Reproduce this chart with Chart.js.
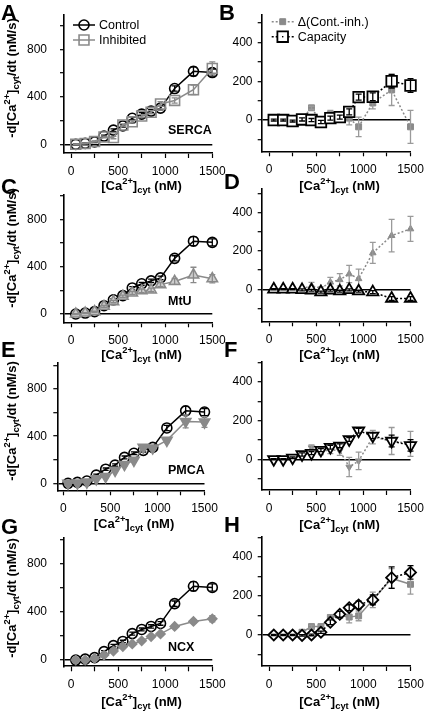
<!DOCTYPE html>
<html>
<head>
<meta charset="utf-8">
<script src="https://cdn.jsdelivr.net/npm/chart.js@4.4.0/dist/chart.umd.min.js"></script>
<style>
html, body { margin:0; padding:0; width:424px; height:711px; overflow:hidden; background:#fff; }
body { position:relative; font-family:"Liberation Sans", Arial, sans-serif; color:#000; }
canvas { position:absolute; }
.lbl { position:absolute; font-weight:bold; white-space:nowrap; line-height:1; }
.letter { font-size:22px; }
.xt { font-size:13px; transform:translate(-50%,-50%); }
.yt { font-size:13px; transform:translate(-50%,-50%) rotate(-90deg); }
.sup { font-size:0.72em; position:relative; top:-0.6em; }
.sub { font-size:0.72em; position:relative; top:0.3em; }
.name { font-size:12.5px; transform:translateY(-50%); }
</style>
</head>
<body>
<script>
// [Ca2+]cyt bins (nM)
const caConc = [50, 150, 250, 350, 450, 550, 650, 750, 850, 950, 1100, 1300, 1500];

// control efflux rate (nM/s), same in all left panels
const control    = [0, 8, 20, 70, 120, 155, 220, 255, 280, 305, 470, 615, 605];
const controlErr = [4, 4, 5, 8, 10, 10, 12, 12, 14, 15, 22, 38, 30];

// SERCA
const sercaInh      = [0, 8, 23, 62, 57, 163, 190, 238, 270, 340, 370, 460, 640];
const sercaInhErr   = [4, 4, 5, 8, 10, 10, 12, 12, 14, 20, 22, 40, 55];
const sercaDelta    = [0, 0, -3, 5, 63, -8, 30, 17, 10, -35, 88, 155, -35];
const sercaDeltaErr = [3, 3, 5, 8, 8, 10, 20, 20, 35, 50, 30, 80, 85];
const sercaCap      = [0, 0, -5, 3, 0, -10, 10, 15, 42, 118, 120, 200, 178];
const sercaCapErr   = [5, 5, 5, 8, 8, 8, 10, 10, 15, 15, 20, 35, 35];

// MtU
const mtuInh      = [0, 8, 20, 65, 105, 150, 178, 196, 203, 248, 275, 330, 298];
const mtuInhErr   = [4, 4, 5, 8, 10, 10, 12, 15, 15, 18, 25, 65, 35];
const mtuDelta    = [0, 0, 0, 3, 18, 5, 37, 50, 80, 55, 190, 280, 315];
const mtuDeltaErr = [3, 3, 3, 5, 18, 8, 25, 32, 45, 50, 55, 85, 65];
const mtuCap      = [0, 0, 0, -3, -5, -15, -5, -10, -3, -10, -15, -48, -48];
const mtuCapErr   = [3, 3, 3, 5, 5, 5, 5, 5, 5, 5, 8, 10, 10];

// PMCA
const pmcaInh      = [0, 2, 10, 38, 58, 110, 160, 195, 305, 300, 365, 525, 520];
const pmcaInhErr   = [4, 4, 5, 8, 10, 10, 12, 12, 20, 20, 20, 55, 45];
const pmcaDelta    = [0, 0, 0, 25, 60, 40, 50, 45, -40, -8, 115, 95, 80];
const pmcaDeltaErr = [3, 3, 5, 15, 15, 15, 20, 25, 50, 45, 35, 70, 65];
const pmcaCap      = [0, 0, 8, 25, 32, 48, 63, 70, 103, 148, 122, 95, 72];
const pmcaCapErr   = [3, 3, 4, 8, 8, 8, 10, 10, 10, 12, 15, 30, 30];

// NCX
const ncxInh      = [0, 0, 14, 42, 75, 112, 134, 160, 196, 218, 280, 322, 344];
const ncxInhErr   = [3, 3, 4, 5, 5, 6, 6, 6, 8, 8, 10, 12, 25];
const ncxDelta    = [0, 0, 0, 14, 43, 43, 90, 100, 92, 98, 180, 290, 260];
const ncxDeltaErr = [3, 3, 3, 6, 8, 8, 12, 12, 30, 25, 40, 50, 50];
const ncxCap      = [0, 0, 0, -2, 0, 14, 65, 106, 140, 154, 180, 294, 321];
const ncxCapErr   = [3, 3, 3, 4, 4, 6, 12, 15, 15, 20, 25, 55, 35];

// axis ticks
const xTicks = [0, 250, 500, 750, 1000, 1250, 1500];
const xTickLabels = [0, 500, 1000, 1500];
const yTicksRate = [0, 200, 400, 600, 800, 1000];
const yLabelsRate = [0, 400, 800];
const yTicksDiff = [-100, 0, 100, 200, 300, 400, 500];
const yLabelsDiff = [0, 200, 400];

const GRAY = '#8a8a8a';
const FONT = '"Liberation Sans", Arial, sans-serif';
Chart.defaults.font.family = FONT;
Chart.defaults.color = '#000';

function series(label, values, errs, style) {
  return Object.assign({
    label: label,
    data: caConc.map((x, i) => ({ x: x, y: values[i] })),
    errors: errs,
    showLine: true,
    tension: 0,
    clip: false,
    borderWidth: 1.5,
    pointBorderWidth: 1.6,
    pointRotation: 0
  }, style);
}

function controlSet() {
  return series('Control', control, controlErr, {
    borderColor: '#000', pointStyle: 'circle', pointRadius: 5,
    pointBackgroundColor: 'rgba(0,0,0,0)', errColor: '#000', order: 1
  });
}
function inhSet(values, errs, shape, r, rot, bg) {
  return series('Inhibited', values, errs, {
    borderColor: GRAY, pointStyle: shape, pointRadius: r, pointRotation: rot,
    pointBackgroundColor: bg, errColor: GRAY, order: 0
  });
}
function deltaSet(values, errs, shape, r, rot, dash) {
  return series('\u0394(Cont.-inh.)', values, errs, {
    borderColor: GRAY, borderDash: dash, pointStyle: shape, pointRadius: r, pointRotation: rot,
    pointBackgroundColor: GRAY, pointBorderWidth: 1, errColor: '#9a9a9a', order: 1
  });
}
function capSet(values, errs, shape, r, rot) {
  return series('Capacity', values, errs, {
    borderColor: '#000', borderDash: [2, 2], pointStyle: shape, pointRadius: r, pointRotation: rot,
    pointBackgroundColor: '#fff', pointBorderWidth: 1.8, pointBorderDash: [], errColor: '#000', order: 0
  });
}

const panels = [
  { letter: 'A', col: 0, area: { l: 64, r: 212.3, t: 15, b: 153 }, x: [-75, 1500], y: [-73, 1090], kind: 'rate',
    sets: [controlSet(), inhSet(sercaInh, sercaInhErr, 'rect', 7, 0, 'rgba(0,0,0,0)')],
    legend: { dx: 9, dy: 10, items: [1, 0].map(i => i) } },
  { letter: 'B', col: 1, area: { l: 261.7, r: 410.5, t: 15, b: 151.3 }, x: [-78, 1500], y: [-161, 541], kind: 'diff',
    sets: [capSet(sercaCap, sercaCapErr, 'rect', 7.5, 0), deltaSet(sercaDelta, sercaDeltaErr, 'rect', 4.2, 0, [2, 2])],
    legend: { dx: 10, dy: 6.7 } },
  { letter: 'C', col: 0, area: { l: 64, r: 212.3, t: 195, b: 322.3 }, x: [-75, 1500], y: [-70, 1005], kind: 'rate',
    sets: [controlSet(), inhSet(mtuInh, mtuInhErr, 'triangle', 6, 0, '#cfcfcf')] },
  { letter: 'D', col: 1, area: { l: 261.7, r: 410.5, t: 188.3, b: 321.3 }, x: [-78, 1500], y: [-167, 527], kind: 'diff',
    sets: [capSet(mtuCap, mtuCapErr, 'triangle', 6.5, 0), deltaSet(mtuDelta, mtuDeltaErr, 'triangle', 3.8, 0, [2, 2])] },
  { letter: 'E', col: 0, area: { l: 57.3, r: 204.5, t: 363, b: 490.3 }, x: [-64, 1500], y: [-59, 1021], kind: 'rate',
    sets: [controlSet(), inhSet(pmcaInh, pmcaInhErr, 'triangle', 6, 180, GRAY)] },
  { letter: 'F', col: 1, area: { l: 261.7, r: 410.5, t: 361.7, b: 490 }, x: [-78, 1500], y: [-159, 506], kind: 'diff',
    sets: [capSet(pmcaCap, pmcaCapErr, 'triangle', 6.5, 180), deltaSet(pmcaDelta, pmcaDeltaErr, 'triangle', 3.8, 180, [2, 2])] },
  { letter: 'G', col: 0, area: { l: 64, r: 212.3, t: 538, b: 666.3 }, x: [-75, 1500], y: [-52, 1017], kind: 'rate',
    sets: [controlSet(), inhSet(ncxInh, ncxInhErr, 'rectRot', 4.5, 0, GRAY)] },
  { letter: 'H', col: 1, area: { l: 261.7, r: 410.5, t: 536.7, b: 666 }, x: [-78, 1500], y: [-159, 504], kind: 'diff',
    sets: [capSet(ncxCap, ncxCapErr, 'rectRot', 5.5, 0), deltaSet(ncxDelta, ncxDeltaErr, 'rect', 4.2, 0, [])] }
];

function drawMarker(ctx, shape, r, rot, x, y, fill, stroke, lw) {
  ctx.save();
  ctx.translate(x, y);
  ctx.rotate(rot * Math.PI / 180);
  ctx.beginPath();
  if (shape === 'circle') ctx.arc(0, 0, r, 0, 2 * Math.PI);
  else if (shape === 'rect') { const s = r * Math.SQRT1_2; ctx.rect(-s, -s, 2 * s, 2 * s); }
  else if (shape === 'triangle') {
    for (let k = 0; k < 3; k++) {
      const a = k * 2 * Math.PI / 3;
      if (k) ctx.lineTo(Math.sin(a) * r, -Math.cos(a) * r); else ctx.moveTo(Math.sin(a) * r, -Math.cos(a) * r);
    }
    ctx.closePath();
  } else { ctx.moveTo(-r, 0); ctx.lineTo(0, -r); ctx.lineTo(r, 0); ctx.lineTo(0, r); ctx.closePath(); }
  ctx.fillStyle = fill; ctx.fill();
  ctx.strokeStyle = stroke; ctx.lineWidth = lw; ctx.stroke();
  ctx.restore();
}

// error bars drawn right after each dataset, with caps
const errorBars = {
  id: 'errorBars',
  afterDatasetDraw(chart, args) {
    const ds = chart.data.datasets[args.index];
    if (!ds.errors) return;
    const ys = chart.scales.y, ctx = chart.ctx;
    ctx.save();
    ctx.strokeStyle = ds.errColor;
    ctx.lineWidth = 1.3;
    args.meta.data.forEach((pt, i) => {
      const v = ds.data[i].y, e = ds.errors[i];
      const top = ys.getPixelForValue(v + e), bot = ys.getPixelForValue(v - e);
      ctx.beginPath();
      ctx.moveTo(pt.x, top); ctx.lineTo(pt.x, bot);
      ctx.moveTo(pt.x - 3, top); ctx.lineTo(pt.x + 3, top);
      ctx.moveTo(pt.x - 3, bot); ctx.lineTo(pt.x + 3, bot);
      ctx.stroke();
    });
    ctx.restore();
  }
};

// Igor-style legend: line segment + marker + label
const miniLegend = {
  id: 'miniLegend',
  afterDraw(chart, args, opts) {
    if (!opts || !opts.show) return;
    const ctx = chart.ctx, area = chart.chartArea;
    const order = opts.order;
    order.forEach((di, row) => {
      const ds = chart.data.datasets[di];
      const y = area.top + opts.dy + row * 15;
      const x0 = area.left + opts.dx;
      ctx.save();
      ctx.strokeStyle = ds.borderColor;
      ctx.lineWidth = 1.5;
      ctx.setLineDash(ds.borderDash || []);
      ctx.beginPath(); ctx.moveTo(x0, y); ctx.lineTo(x0 + 22, y); ctx.stroke();
      ctx.setLineDash([]);
      drawMarker(ctx, ds.pointStyle, ds.pointRadius, ds.pointRotation, x0 + 11, y,
        ds.pointBackgroundColor, ds.borderColor, ds.pointBorderWidth);
      if (ds.label === 'Capacity') {
        ctx.fillStyle = '#000'; ctx.fillRect(x0 + 10.3, y - 0.7, 1.4, 1.4);
      }
      ctx.fillStyle = '#000';
      ctx.font = '12.5px ' + FONT;
      ctx.textBaseline = 'middle';
      ctx.fillText(ds.label, x0 + 26, y + 0.5);
      ctx.restore();
    });
  }
};

function makeScales(p, g) {
  const rate = p.kind === 'rate';
  const yT = rate ? yTicksRate : yTicksDiff;
  const yL = rate ? yLabelsRate : yLabelsDiff;
  const labelRight = p.col === 0 ? 47 : 252.5;
  return {
    x: {
      type: 'linear', min: p.x[0], max: p.x[1],
      afterBuildTicks: s => { s.ticks = xTicks.map(v => ({ value: v })); },
      afterFit: s => { s.height = g.xh; s.paddingLeft = 0; s.paddingRight = 0; s.paddingTop = 0; s.paddingBottom = 0; },
      ticks: { autoSkip: false, maxRotation: 0, padding: 6, color: '#000', font: { size: 12 },
        callback: v => xTickLabels.includes(v) ? String(v) : '' },
      grid: { drawOnChartArea: false, drawTicks: true, tickLength: 5, tickColor: '#000', tickWidth: 1.2 },
      border: { display: true, color: '#000', width: 1.6 }
    },
    y: {
      type: 'linear', min: p.y[0], max: p.y[1],
      afterBuildTicks: s => { s.ticks = yT.map(v => ({ value: v })); },
      afterFit: s => { s.width = g.yw; s.paddingLeft = 0; s.paddingRight = 0; s.paddingTop = 0; s.paddingBottom = 0; },
      ticks: { autoSkip: false, padding: p.area.l - 4 - labelRight, color: '#000', font: { size: 12 },
        callback: v => yL.includes(v) ? String(v) : '' },
      grid: {
        drawOnChartArea: true, drawTicks: true, tickLength: 4, tickColor: '#000', tickWidth: 1.2,
        color: c => (c.tick && c.tick.value === 0) ? '#000' : 'rgba(0,0,0,0)',
        lineWidth: 1.4
      },
      border: { display: true, color: '#000', width: 1.6 }
    }
  };
}

panels.forEach(p => {
  const a = p.area;
  const cl = p.col === 0 ? 0 : 212;
  const cw = p.col === 0 ? 232 : 218;
  const ct = Math.floor(a.t) - 12;
  const ch = Math.ceil(a.b) + 32 - ct;
  const g = { yw: a.l - cl, xh: ct + ch - a.b };
  const cv = document.createElement('canvas');
  cv.width = cw; cv.height = ch;
  cv.style.left = cl + 'px'; cv.style.top = ct + 'px';
  cv.style.width = cw + 'px'; cv.style.height = ch + 'px';
  document.body.appendChild(cv);
  new Chart(cv.getContext('2d'), {
    type: 'scatter',
    data: { datasets: p.sets },
    options: {
      responsive: false, animation: false, events: [], devicePixelRatio: 1,
      layout: { padding: { left: 0, top: a.t - ct, right: cl + cw - a.r, bottom: 0 } },
      scales: makeScales(p, g),
      plugins: {
        legend: { display: false }, tooltip: { enabled: false },
        miniLegend: p.legend ? { show: true, dx: p.legend.dx, dy: p.legend.dy, order: p.col === 0 ? [0, 1] : [1, 0] } : { show: false }
      }
    },
    plugins: [errorBars, miniLegend]
  });
});

// text overlays: panel letters, axis titles, transporter names
const caHtml = '[Ca<span class="sup">2+</span>]<span class="sub">cyt</span>';
const letters = [['A', 1, 2], ['B', 219, 2], ['C', 1, 176], ['D', 224, 171], ['E', 1, 339], ['F', 224, 339], ['G', 1, 516], ['H', 224, 514]];
const xTitles = [[141.5, 186], [339.5, 186], [141.5, 355], [339.5, 355], [134, 524], [339.5, 525], [141.5, 702], [339.5, 702]];
const yTitles = [[12, 78], [12, 248], [12, 421], [12, 598]];
const names = [['SERCA', 168, 130], ['MtU', 168, 301], ['PMCA', 168, 470], ['NCX', 168, 647]];

function addDiv(cls, html, x, y) {
  const d = document.createElement('div');
  d.className = 'lbl ' + cls;
  d.innerHTML = html;
  d.style.left = x + 'px'; d.style.top = y + 'px';
  document.body.appendChild(d);
}
letters.forEach(l => addDiv('letter', l[0], l[1], l[2]));
xTitles.forEach(t => addDiv('xt', caHtml + ' (nM)', t[0], t[1]));
yTitles.forEach(t => addDiv('yt', '-d' + caHtml + '/dt (nM/s)', t[0], t[1]));
names.forEach(n => addDiv('name', n[0], n[1], n[2]));
</script>
</body>
</html>
